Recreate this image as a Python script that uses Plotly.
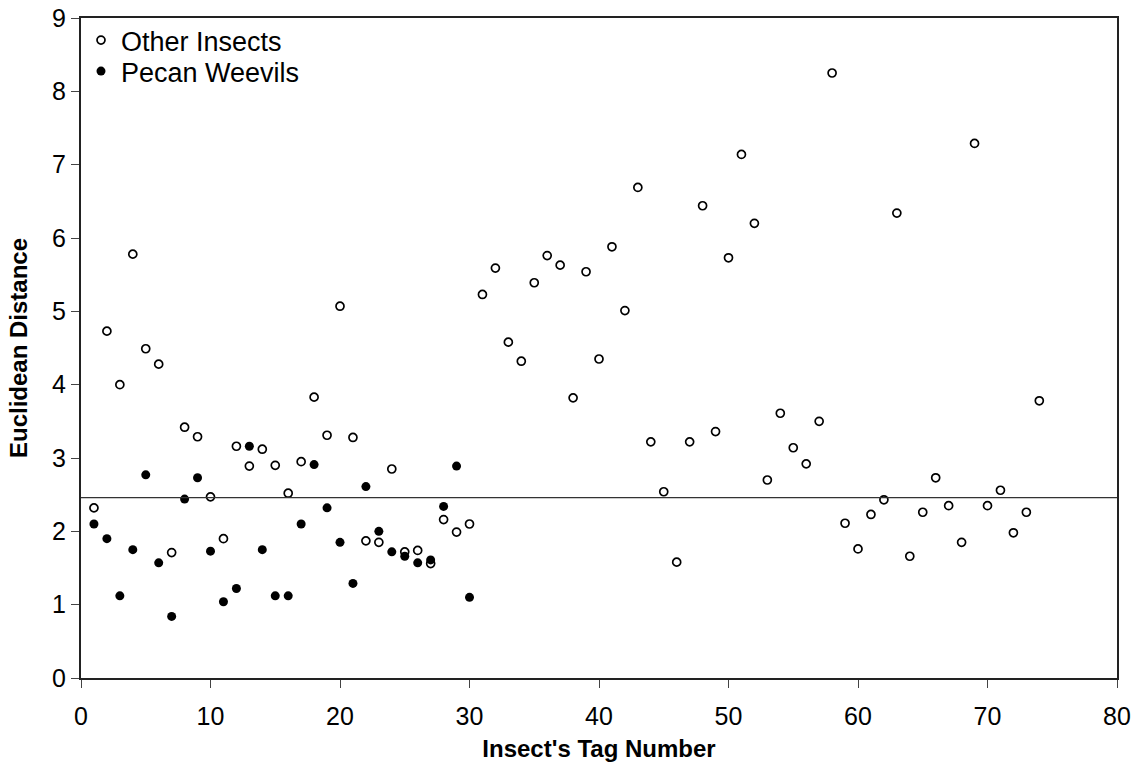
import plotly.graph_objects as go

# ---- data ----
other_tags = list(range(1, 75))
other_dist = [
    2.32, 4.73, 4.00, 5.78, 4.49, 4.28, 1.71, 3.42, 3.29, 2.47,
    1.90, 3.16, 2.89, 3.12, 2.90, 2.52, 2.95, 3.83, 3.31, 5.07,
    3.28, 1.87, 1.85, 2.85, 1.72, 1.74, 1.56, 2.16, 1.99, 2.10,
    5.23, 5.59, 4.58, 4.32, 5.39, 5.76, 5.63, 3.82, 5.54, 4.35,
    5.88, 5.01, 6.69, 3.22, 2.54, 1.58, 3.22, 6.44, 3.36, 5.73,
    7.14, 6.20, 2.70, 3.61, 3.14, 2.92, 3.50, 8.25, 2.11, 1.76,
    2.23, 2.43, 6.34, 1.66, 2.26, 2.73, 2.35, 1.85, 7.29, 2.35,
    2.56, 1.98, 2.26, 3.78,
]

weevil_tags = list(range(1, 31))
weevil_dist = [
    2.10, 1.90, 1.12, 1.75, 2.77, 1.57, 0.84, 2.44, 2.73, 1.73,
    1.04, 1.22, 3.16, 1.75, 1.12, 1.12, 2.10, 2.91, 2.32, 1.85,
    1.29, 2.61, 2.00, 1.72, 1.66, 1.57, 1.61, 2.34, 2.89, 1.10,
]

threshold = 2.46

x_ticks = [0, 10, 20, 30, 40, 50, 60, 70, 80]
y_ticks = [0, 1, 2, 3, 4, 5, 6, 7, 8, 9]

FONT = "Liberation Sans, Arial, Helvetica, sans-serif"

fig = go.Figure()

fig.add_trace(go.Scatter(
    x=other_tags, y=other_dist, mode="markers", name="Other Insects",
    legend="legend",
    marker=dict(symbol="circle-open", size=8, color="black",
                line=dict(width=1.7, color="black")),
))
fig.add_trace(go.Scatter(
    x=weevil_tags, y=weevil_dist, mode="markers", name="Pecan Weevils",
    legend="legend2",
    marker=dict(symbol="circle", size=9, color="black"),
))

fig.add_hline(y=threshold, line=dict(color="#333333", width=1.2))

axis_common = dict(
    showgrid=False, zeroline=False, showline=True, linecolor="#222222",
    linewidth=2, mirror=True, ticks="outside", ticklen=8, tickwidth=1,
    tickcolor="#444444", tickfont=dict(family=FONT, size=25, color="black"),
    automargin=False,
)

fig.update_xaxes(
    range=[0, 80], tickvals=x_ticks, ticktext=[str(v) for v in x_ticks],
    ticklabelstandoff=7,
    title=dict(text="Insect's Tag Number", standoff=11,
               font=dict(family=FONT, size=24, color="black", weight="bold")),
    **axis_common,
)
fig.update_yaxes(
    range=[0, 9], tickvals=y_ticks, ticktext=[str(v) for v in y_ticks],
    title=dict(text="Euclidean Distance", standoff=18,
               font=dict(family=FONT, size=24, color="black", weight="bold")),
    **axis_common,
)

legend_style = dict(xanchor="left", yanchor="top",
                    bgcolor="rgba(0,0,0,0)", borderwidth=0,
                    font=dict(family=FONT, size=27, color="black"),
                    itemwidth=30)

fig.update_layout(
    width=1144, height=763,
    margin=dict(l=81, r=27, t=18, b=85, autoexpand=False),
    plot_bgcolor="white", paper_bgcolor="white",
    font=dict(family=FONT, color="black"),
    legend=dict(x=0.0, y=1.003, **legend_style),
    legend2=dict(x=0.0, y=0.956, **legend_style),
    showlegend=True,
)

fig.write_html("out.html")
